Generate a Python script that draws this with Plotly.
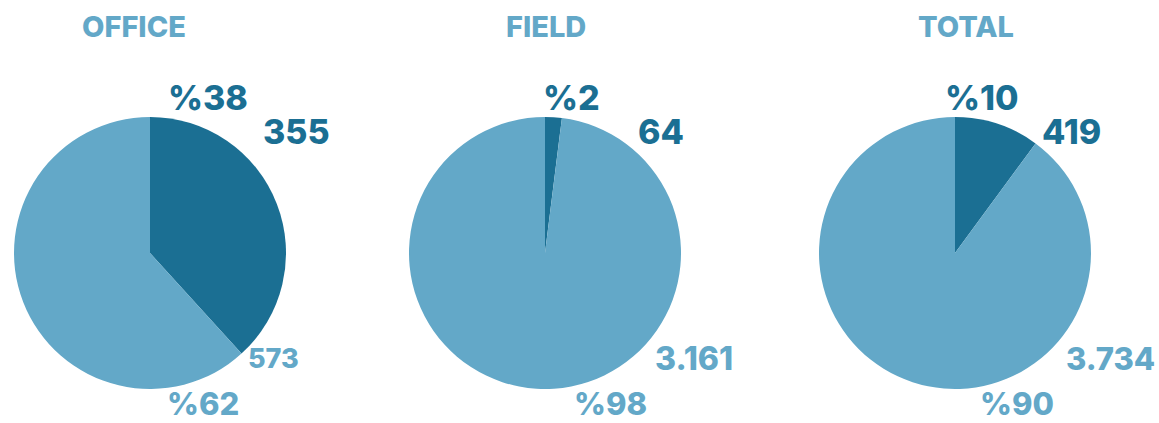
import plotly.graph_objects as go

groups = ["OFFICE", "FIELD", "TOTAL"]
dark_counts = [355, 64, 419]
light_counts = [573, 3161, 3734]
dark_pct_labels = ["%38", "%2", "%10"]
light_pct_labels = ["%62", "%98", "%90"]
dark_count_labels = ["355", "64", "419"]
light_count_labels = ["573", "3.161", "3.734"]

DARK = "#1b6f93"
LIGHT = "#63a8c8"
W, H = 1159, 423
FONT = "Inter"

# pie centers (px) and radius
centers_x = [150, 545, 955]
center_y = 253
radius = 136

fig = go.Figure()
for i, g in enumerate(groups):
    cx = centers_x[i]
    fig.add_trace(go.Pie(
        values=[dark_counts[i], light_counts[i]],
        labels=["dark", "light"],
        sort=False,
        direction="clockwise",
        rotation=0,
        marker=dict(colors=[DARK, LIGHT], line=dict(width=0)),
        textinfo="none",
        hoverinfo="label+value+percent",
        showlegend=False,
        domain=dict(x=[(cx - radius) / W, (cx + radius) / W],
                    y=[1 - (center_y + radius) / H, 1 - (center_y - radius) / H]),
    ))

def px(x, y):
    return x / W, 1 - y / H

title_pos = [(134, 27), (546, 27), (966, 27)]
dark_pct_pos = [(208, 97), (571, 97), (982, 97)]
dark_cnt_pos = [(296, 131), (661, 131), (1071, 131)]
light_cnt_pos = [(273, 358), (694, 358), (1110, 358)]
light_pct_pos = [(203, 403), (610, 403), (1017, 403)]
light_cnt_size = [27, 32, 31]

ann = []
def add(text, pos, size, color):
    x, y = px(*pos)
    ann.append(dict(text=text, x=x, y=y, xref="paper", yref="paper",
                    xanchor="center", yanchor="middle", showarrow=False,
                    font=dict(family=FONT, size=size, color=color, weight=800)))

for i in range(3):
    add(groups[i], title_pos[i], 29, LIGHT)
    add(dark_pct_labels[i], dark_pct_pos[i], 34, DARK)
    add(dark_count_labels[i], dark_cnt_pos[i], 34, DARK)
    add(light_count_labels[i], light_cnt_pos[i], light_cnt_size[i], LIGHT)
    add(light_pct_labels[i], light_pct_pos[i], 31, LIGHT)

fig.update_layout(
    width=W, height=H,
    margin=dict(l=0, r=0, t=0, b=0),
    paper_bgcolor="white", plot_bgcolor="white",
    annotations=ann,
)
fig.write_html("out.html")
